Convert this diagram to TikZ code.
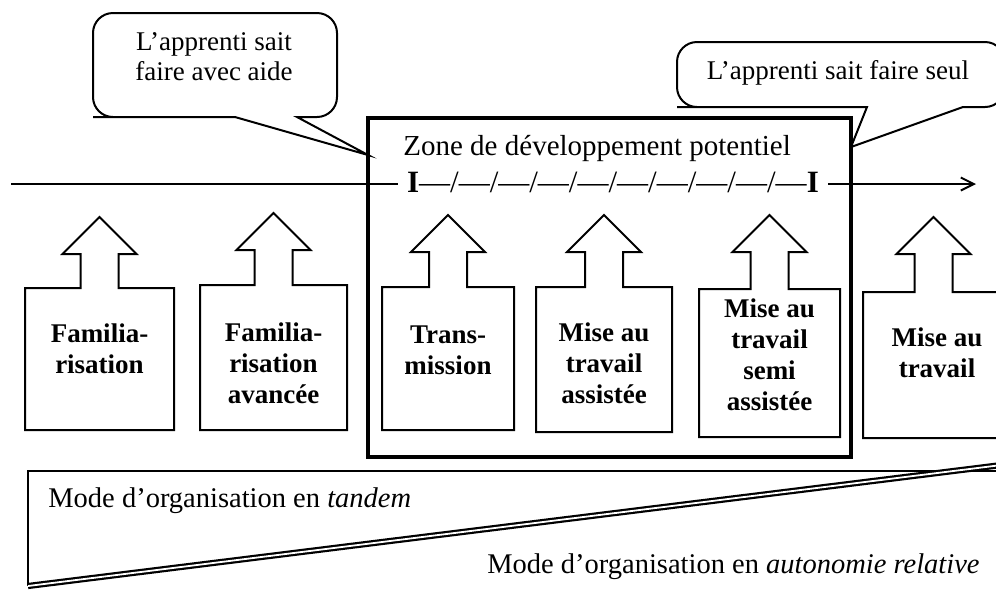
\documentclass[tikz,border=0pt]{standalone}
\usepackage{fontspec}
\setmainfont{Liberation Serif}
\usetikzlibrary{arrows.meta}

\begin{document}
\begin{tikzpicture}[x=0.5pt, y=-0.5pt, line join=miter,
  phase/.style={draw, line width=1pt, fill=white},
  phase text/.style={font=\fontsize{13.5}{15.5}\selectfont\bfseries, align=center},
  bubble/.style={draw, line width=1pt, fill=white},
  bubble text/.style={font=\fontsize{13.5}{15}\selectfont, align=center},
  mode text/.style={font=\fontsize{14.25}{17}\selectfont, inner sep=0pt}]
\useasboundingbox (0,0) rectangle (996,591);
\clip (0,0) rectangle (996,591);

% zone de developpement
\draw[line width=2.4pt] (368,118) rectangle (851,457);
\node[font=\fontsize{14.5}{17}\selectfont, anchor=base west, inner sep=0pt] (zone) at (403,155) {Zone de développement potentiel};

% axe
\coordinate (axis start) at (11,184);
\coordinate (axis end) at (976,184);
\draw[line width=1pt, -{Straight Barb[length=6.5pt,width=6.5pt]}] (axis start) -- (axis end);
\node[fill=white, inner xsep=4.5pt, inner ysep=1pt, anchor=base, font=\fontsize{15.5}{18}\selectfont] (ticks) at (613,192) {\textbf{I}—/—/—/—/—/—/—/—/—/—\textbf{I}};

% bulles
\coordinate (aide tip) at (368,155);
\coordinate (seul tip) at (851,147);
\draw[bubble] (297,117) -- (317,117) [rounded corners=10pt] -- (337,117) -- (337,13) -- (93,13) -- (93,117) -- (113,117) [sharp corners] -- (235,117) -- (aide tip) -- cycle;
\draw[bubble] (963,107) -- (983,107) [rounded corners=10pt] -- (1005,107) -- (1005,42) -- (677,42) -- (677,107) -- (697,107) [sharp corners] -- (867,107) -- (seul tip) -- cycle;
\node[bubble text] (aide) at (214,57) {L’apprenti sait\\faire avec aide};
\node[bubble text] (seul) at (838,73) {L’apprenti sait faire seul};

% phases
\foreach \cx/\hw/\ytop/\ybot/\ytip in {99.5/74.5/288/430/217, 273.5/73.5/285/430/213, 448/66/287/430/215, 604/68/287/432/215, 769.5/70.5/289/437/215, 933.5/70.5/292/438/217}
  \draw[phase] ({\cx-\hw},\ybot) -- ({\cx-\hw},\ytop) -- ({\cx-19},\ytop) -- ({\cx-19},{\ytip+37}) -- ({\cx-37},{\ytip+37}) -- (\cx,\ytip) -- ({\cx+37},{\ytip+37}) -- ({\cx+19},{\ytip+37}) -- ({\cx+19},\ytop) -- ({\cx+\hw},\ytop) -- ({\cx+\hw},\ybot) -- cycle;

\node[phase text] (familiarisation) at (99.5,349) {Familia-\\risation};
\node[phase text] (familiarisation avancee) at (273.5,363) {Familia-\\risation\\avancée};
\node[phase text] (transmission) at (448,350) {Trans-\\mission};
\node[phase text] (assistee) at (604,363) {Mise au\\travail\\assistée};
\node[phase text] (semi assistee) at (769.5,355) {Mise au\\travail\\semi\\assistée};
\node[phase text] (travail) at (937,353) {Mise au\\travail};

% modes d'organisation
\coordinate (mode tl) at (28,471);
\coordinate (mode bl) at (28,586);
\coordinate (mode tr) at (1000,471);
\coordinate (mode diag) at (1000,465.2);
\draw[line width=1pt] (mode tr) -- (mode tl) -- (mode bl);
\draw[double=white, double distance=0.9pt, line width=1.1pt] (mode bl) -- (mode diag);
\node[mode text, anchor=base west] (tandem) at (48,507) {Mode d’organisation en \textit{tandem}};
\node[mode text, anchor=base east] (autonomie) at (980,573) {Mode d’organisation en \textit{autonomie relative}};
\end{tikzpicture}
\end{document}
